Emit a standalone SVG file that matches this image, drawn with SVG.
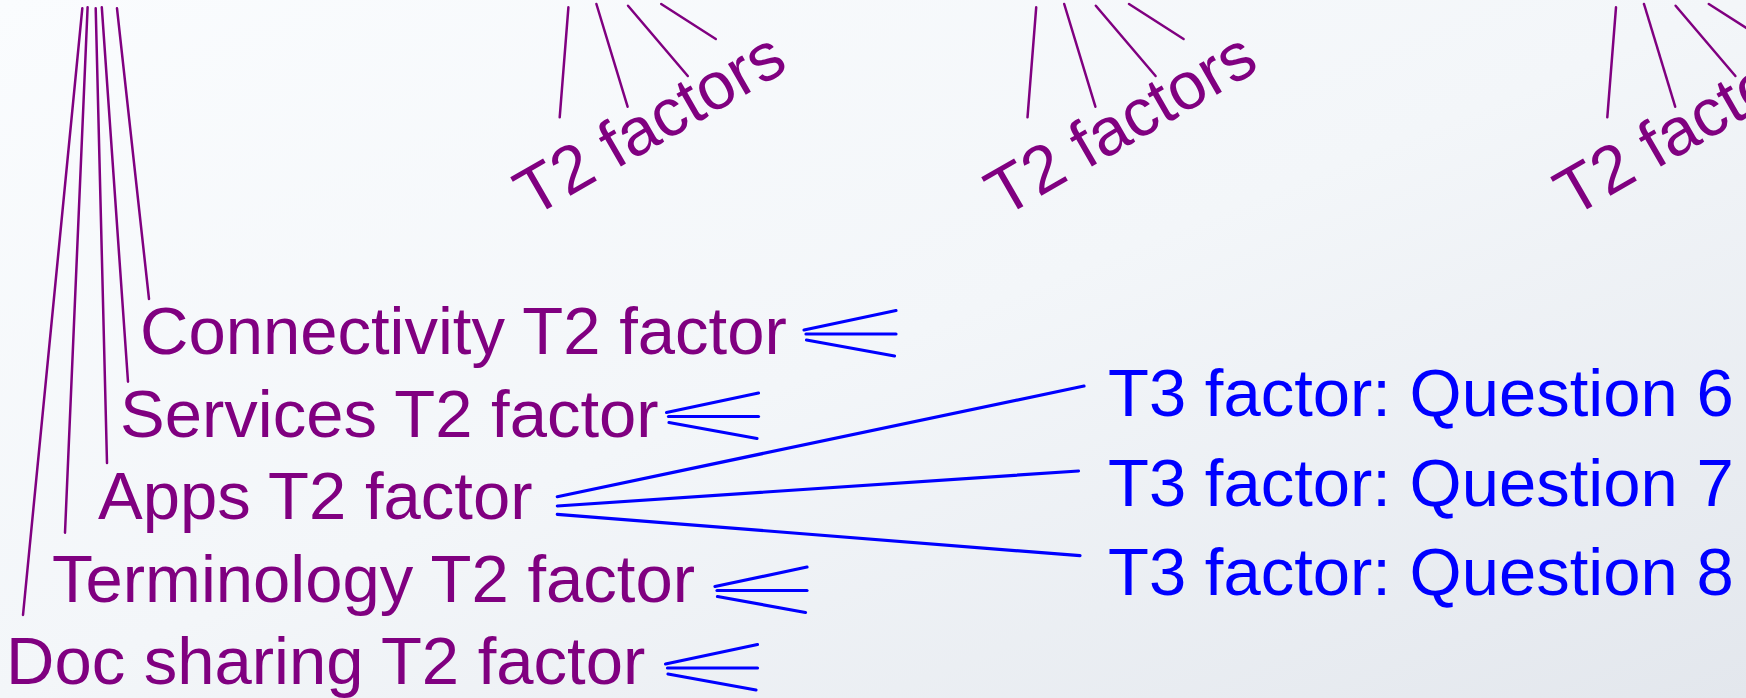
<svg xmlns="http://www.w3.org/2000/svg" xmlns:xlink="http://www.w3.org/1999/xlink" width="1746" height="698" viewBox="0 0 1746 698">
  <defs>
    <linearGradient id="bg" x1="0" y1="0" x2="1" y2="1">
      <stop offset="0" stop-color="#fafcfe"/>
      <stop offset="0.5" stop-color="#f3f6f9"/>
      <stop offset="1" stop-color="#e3e7ed"/>
    </linearGradient>
    <style>
      .t2 { font-family: "Liberation Sans", Arial, sans-serif; font-size: 67px; fill: #800080; }
      .t3 { font-family: "Liberation Sans", Arial, sans-serif; font-size: 67px; fill: #0000ff; }
      .pl { stroke: #800080; stroke-width: 2.5; fill: none; stroke-linecap: round; }
      .bl { stroke: #0000ff; stroke-width: 3.2; fill: none; stroke-linecap: round; }
    </style>
    <g id="fan" class="bl">
      <line x1="0" y1="0" x2="92" y2="-19.5"/>
      <line x1="2" y1="4" x2="92" y2="4"/>
      <line x1="2.5" y1="10" x2="90.5" y2="26"/>
    </g>
    <g id="spray" class="pl">
      <line x1="0" y1="0" x2="-8.7" y2="110"/>
      <line x1="28" y1="-3.3" x2="59.2" y2="99.4"/>
      <line x1="59.6" y1="-1.6" x2="119.4" y2="68.7"/>
      <line x1="92.8" y1="-3.3" x2="147.4" y2="31.7"/>
    </g>
  </defs>
  <rect x="0" y="0" width="1746" height="698" fill="url(#bg)"/>

  <g id="connectors">
    <g class="pl">
      <line x1="82.3" y1="8.3" x2="23" y2="615"/>
      <line x1="87.6" y1="7.3" x2="65" y2="532.7"/>
      <line x1="95.7" y1="8.3" x2="107" y2="463"/>
      <line x1="101.8" y1="7.3" x2="128" y2="381.7"/>
      <line x1="117" y1="8.3" x2="149" y2="299"/>
    </g>
    <use xlink:href="#spray" transform="translate(568.4,7.3)"/>
    <use xlink:href="#spray" transform="translate(1036.2,7.3)"/>
    <use xlink:href="#spray" transform="translate(1616,7.3)"/>
    <use xlink:href="#fan" transform="translate(804,330)"/>
    <use xlink:href="#fan" transform="translate(666.5,412.5)"/>
    <use xlink:href="#fan" transform="translate(715,586.5)"/>
    <use xlink:href="#fan" transform="translate(665.5,664)"/>
    <g class="bl">
      <line x1="557.3" y1="496.7" x2="1084" y2="386"/>
      <line x1="557.3" y1="506" x2="1078.5" y2="471"/>
      <line x1="557.3" y1="514.3" x2="1080" y2="555.7"/>
    </g>
  </g>

  <g id="t2-factors-1"><text class="t2" transform="translate(532,218) rotate(-30)">T2 factors</text></g>
  <g id="t2-factors-2"><text class="t2" transform="translate(1003,218) rotate(-30)">T2 factors</text></g>
  <g id="t2-factors-3"><text class="t2" transform="translate(1572,218) rotate(-30)">T2 factors</text></g>

  <g id="connectivity"><text class="t2" x="140" y="354">Connectivity T2 factor</text></g>
  <g id="services"><text class="t2" x="120" y="436.5">Services T2 factor</text></g>
  <g id="apps"><text class="t2" x="98" y="519">Apps T2 factor</text></g>
  <g id="terminology"><text class="t2" x="52" y="601.5">Terminology T2 factor</text></g>
  <g id="doc-sharing"><text class="t2" x="6" y="684">Doc sharing T2 factor</text></g>

  <g id="q6"><text class="t3" x="1108" y="416">T3 factor: Question 6</text></g>
  <g id="q7"><text class="t3" x="1108" y="505.5">T3 factor: Question 7</text></g>
  <g id="q8"><text class="t3" x="1108" y="595">T3 factor: Question 8</text></g>
</svg>
